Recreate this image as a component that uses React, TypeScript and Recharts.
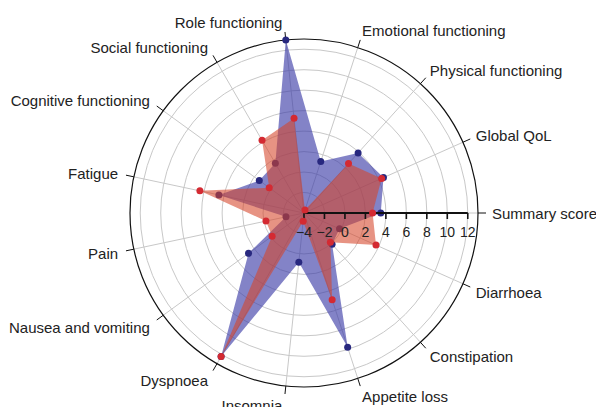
import React from 'react';
import {
  RadarChart,
  Radar,
  PolarGrid,
  PolarAngleAxis,
  PolarRadiusAxis,
} from 'recharts';

// listed counterclockwise, starting from the right-hand axis
const categories = [
  'Summary score',
  'Global QoL',
  'Physical functioning',
  'Emotional functioning',
  'Role functioning',
  'Social functioning',
  'Cognitive functioning',
  'Fatigue',
  'Pain',
  'Nausea and vomiting',
  'Dyspnoea',
  'Insomnia',
  'Appetite loss',
  'Constipation',
  'Diarrhoea',
];

const blueValues = [3.5, 4.5, 3.9, 1.3, 13, 1.6, 1.4, 4.5, -2.2, 2.7, 12.2, 0.85, 9.8, 0.1, -0.2];
const redValues = [2.7, 4.3, 2.5, -3.7, 5.3, 4.2, 0.2, 6.4, -0.2, -0.15, 12.2, -3.2, 4.9, -0.15, 3.7];

const radiusTicks = [-4, -2, 0, 2, 4, 6, 8, 10, 12];
const radiusDomain = [-4, 13];

// recharts goes clockwise, so keep the first one and walk the rest backwards
const order = [0, ...categories.map((_, i) => categories.length - 1 - i).slice(0, -1)];
const data = order.map((i) => ({
  name: categories[i],
  blue: blueValues[i],
  red: redValues[i],
}));

const W = 596;
const H = 407;
const CX = 304;
const CY = 213;
const FONT = '"Liberation Sans", Arial, Helvetica, sans-serif';

const AngleTick = (props: any) => {
  const { x, y, payload } = props;
  const a = Math.atan2(CY - y, x - CX);
  const c = Math.cos(a);
  const s = Math.sin(a);
  const anchor = c > 0.01 ? 'start' : c < -0.01 ? 'end' : 'middle';
  const tx = CX + 188 * c - (c < 0 ? 2 : 0);
  const ty = CY - 192.5 * s + 6.4;
  return (
    <text x={tx} y={ty} textAnchor={anchor} fontSize={15} fill="#222" fontFamily={FONT}>
      {payload.value}
    </text>
  );
};

const RadiusTick = (props: any) => {
  const { x, y, payload } = props;
  const label = String(payload.value).replace('-', '\u2212');
  return (
    <g>
      <line x1={x} y1={y} x2={x} y2={y + 6} stroke="#111" strokeWidth={1.6} />
      <text x={x} y={y + 24} textAnchor="middle" fontSize={14} fill="#222" fontFamily={FONT}>
        {label}
      </text>
    </g>
  );
};

const chartProps = {
  width: W,
  height: H,
  data,
  cx: CX,
  cy: CY,
  innerRadius: 0,
  outerRadius: 174,
  startAngle: 0,
  endAngle: -360,
  margin: { top: 0, right: 0, bottom: 0, left: 0 },
};

const layer: React.CSSProperties = { position: 'absolute', left: 0, top: 0 };

export default function App() {
  return (
    <div style={{ position: 'absolute', left: 0, top: 0, width: W, height: H, background: '#fff' }}>
      {/* bottom layer: grid, labels, blue series */}
      <div style={layer}>
        <RadarChart {...chartProps}>
          <PolarGrid gridType="circle" stroke="#c8c8c8" strokeWidth={1} />
          <PolarAngleAxis
            dataKey="name"
            axisLineType="circle"
            axisLine={{ stroke: '#111', strokeWidth: 1.2 }}
            tickLine={{ stroke: '#111', strokeWidth: 1 }}
            tickSize={8}
            tick={<AngleTick />}
          />
          <PolarRadiusAxis
            angle={0}
            type="number"
            domain={radiusDomain}
            ticks={radiusTicks}
            axisLine={false}
            tick={false}
          />
          <Radar
            dataKey="blue"
            fill="#3b3ba6"
            fillOpacity={0.63}
            stroke="none"
            dot={{ r: 3.5, fill: '#28287f', stroke: 'none', fillOpacity: 1 }}
            isAnimationActive={false}
          />
        </RadarChart>
      </div>
      {/* top layer: red series over the blue dots, then the radius axis */}
      <div style={layer}>
        <RadarChart {...chartProps}>
          <PolarAngleAxis dataKey="name" axisLine={false} tickLine={false} tick={false} />
          <Radar
            dataKey="red"
            fill="#d5452a"
            fillOpacity={0.58}
            stroke="none"
            dot={{ r: 3.5, fill: '#d42a32', stroke: 'none', fillOpacity: 1 }}
            isAnimationActive={false}
          />
          <PolarRadiusAxis
            angle={0}
            type="number"
            domain={radiusDomain}
            ticks={radiusTicks}
            axisLine={{ stroke: '#111', strokeWidth: 2 }}
            tick={<RadiusTick />}
          />
        </RadarChart>
      </div>
    </div>
  );
}
